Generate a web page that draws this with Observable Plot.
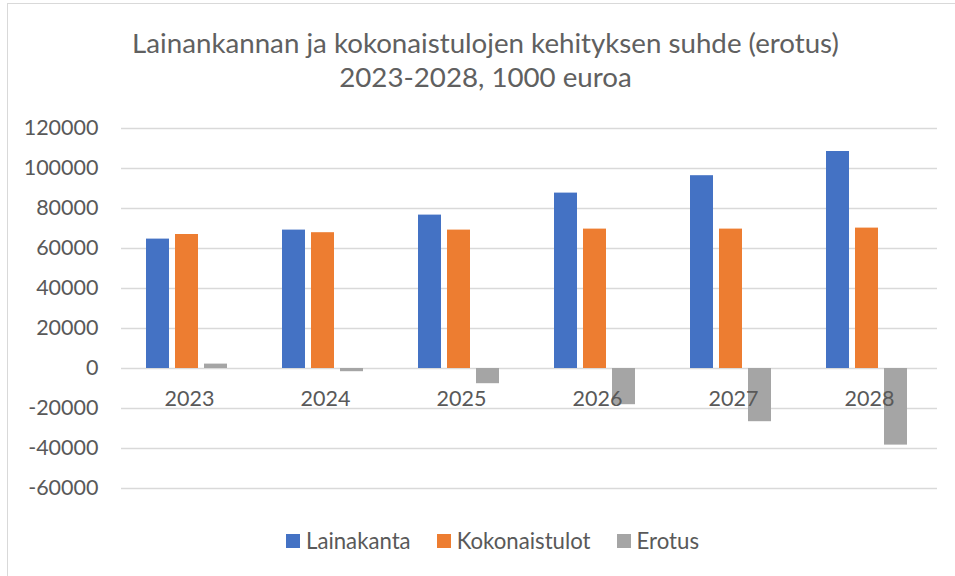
<!DOCTYPE html>
<html>
<head>
<meta charset="utf-8">
<script src="https://cdn.jsdelivr.net/npm/d3@7"></script>
<script src="https://cdn.jsdelivr.net/npm/@observablehq/plot@0.6"></script>
<style>
  html, body { margin: 0; padding: 0; background: #fff; }
  #page { position: relative; width: 955px; height: 576px; overflow: hidden; font-family: Lato, "Open Sans", sans-serif; color: #595959; }
  #box { position: absolute; left: 7px; top: 3px; width: 2000px; height: 2000px; border-left: 1.5px solid #d9d9d9; border-top: 1.5px solid #d9d9d9; }
  #title { position: absolute; left: 7px; width: 957px; top: 26px; text-align: center; font-size: 27.7px; line-height: 34px; font-weight: 400; color: #606060; }
  #chart { position: absolute; left: 0; top: 0; }
  #legend { position: absolute; left: 14px; width: 957px; top: 527px; display: flex; justify-content: center; align-items: center; font-size: 22.2px; }
  .item { display: flex; align-items: center; margin: 0 13px; }
  .sw { width: 14px; height: 14px; margin-right: 6px; }
</style>
</head>
<body>
<div id="page">
  <div id="box"></div>
  <div id="chart"></div>
  <div id="title">Lainankannan ja kokonaistulojen kehityksen suhde (erotus)<br>2023-2028, 1000 euroa</div>
  <div id="legend"></div>
</div>
<script>
const years = ["2023", "2024", "2025", "2026", "2027", "2028"];
const seriesNames = ["Lainakanta", "Kokonaistulot", "Erotus"];
const seriesColors = ["#4472C4", "#ED7D31", "#A5A5A5"];
const lainakanta = [64700, 69200, 76700, 87700, 96400, 108500];
const kokonaistulot = [67000, 67900, 69200, 69700, 69700, 70200];
const erotus = [2200, -1600, -7600, -18100, -26600, -38300];
const yTicks = [-60000, -40000, -20000, 0, 20000, 40000, 60000, 80000, 100000, 120000];

const seriesValues = [lainakanta, kokonaistulot, erotus];
const data = years.flatMap((y, i) => seriesNames.map((s, j) => ({year: y, series: s, value: seriesValues[j][i]})));

const chart = Plot.plot({
  width: 955,
  height: 500,
  marginTop: 128,
  marginBottom: 12,
  marginLeft: 119,
  marginRight: 17,
  style: {fontFamily: "Lato, 'Open Sans', sans-serif", fontSize: "21.5px", color: "#595959", background: "transparent"},
  fx: {domain: years, padding: 0, axis: null},
  x: {domain: seriesNames, paddingInner: 0.2, paddingOuter: 0.875, axis: null},
  y: {domain: [-60000, 120000], axis: null},
  color: {domain: seriesNames, range: seriesColors},
  marks: [
    Plot.gridY(yTicks, {stroke: "#d9d9d9", strokeOpacity: 1, strokeWidth: 1.3}),
    Plot.axisY(yTicks, {tickSize: 0, tickPadding: 23, tickFormat: d => String(d), label: null, fontSize: 21.5, fill: "#595959"}),
    Plot.barY(data, {fx: "year", x: "series", y: "value", fill: "series", dx: -2}),
    Plot.text(years, {fx: d => d, y: 0, text: d => d, dy: 31, fontSize: 21.5, fill: "#595959"})
  ]
});
document.getElementById("chart").appendChild(chart);

const legend = document.getElementById("legend");
seriesNames.forEach((s, i) => {
  const item = document.createElement("div");
  item.className = "item";
  const sw = document.createElement("div");
  sw.className = "sw";
  sw.style.background = seriesColors[i];
  const label = document.createElement("span");
  label.textContent = s;
  item.appendChild(sw);
  item.appendChild(label);
  legend.appendChild(item);
});
</script>
</body>
</html>
